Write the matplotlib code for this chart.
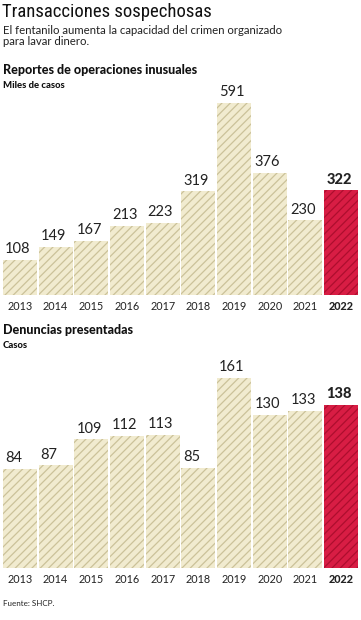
import matplotlib
matplotlib.use("Agg")
import matplotlib.pyplot as plt
from matplotlib import font_manager

years = ["2013", "2014", "2015", "2016", "2017", "2018", "2019", "2020", "2021", "2022"]
reportes = [108, 149, 167, 213, 223, 319, 591, 376, 230, 322]
denuncias = [84, 87, 109, 112, 113, 85, 161, 130, 133, 138]

fl = font_manager.fontManager.ttflist
names = {f.name for f in fl}
title_kw = {"family": "DejaVu Sans", "fontstretch": "condensed"}
for cand in ["Roboto Condensed", "Liberation Sans Narrow", "Open Sans Condensed"]:
    if cand in names:
        title_kw = {"family": cand}
        break
else:
    cond = [f for f in fl if str(f.stretch) in ("condensed", "semi-condensed", "extra-condensed", "75", "87.5")]
    if cond:
        title_kw = {"family": cond[0].name, "fontstretch": cond[0].stretch}
body_font = "Lato"

W, H = 361, 620
fig = plt.figure(figsize=(W / 100, H / 100), dpi=100)
plt.rcParams['hatch.linewidth'] = 0.9

beige = "#f1ebcf"
beige_h = "#cbc299"
red = "#d81d44"
red_h = "#ad0e2e"

def px_axes(x0, x1, ytop, ybot):
    return fig.add_axes([x0 / W, 1 - ybot / H, (x1 - x0) / W, (ybot - ytop) / H])

def draw(ax, vals, ymax):
    n = len(vals)
    for i, v in enumerate(vals):
        last = i == n - 1
        ax.bar(i, v, width=0.955, color=red if last else beige,
               edgecolor=red_h if last else beige_h, hatch="////", linewidth=0)
        ax.text(i - 0.42, v + ymax * 0.018, str(v), ha="left", va="bottom",
                fontsize=10.5, fontweight="black" if last else "normal",
                family=body_font, color="#222222")
    ax.set_xlim(-0.5, n - 0.5)
    ax.set_ylim(0, ymax)
    ax.axis("off")
    for i, y in enumerate(years):
        ax.text(i, -ymax * 0.028, y, ha="center", va="top", fontsize=7.8,
                fontweight="black" if i == n - 1 else "normal", family=body_font,
                color="#222222")

ax1 = px_axes(2, 359, 90, 295)
draw(ax1, reportes, 205 / 0.325)

ax2 = px_axes(2, 359, 360, 568)
draw(ax2, denuncias, 208 / 1.18)

fig.text(2 / W, 1 - 3 / H, "Transacciones sospechosas", ha="left", va="top",
         fontsize=13.5, color="#111111", **title_kw)
fig.text(3 / W, 1 - 25 / H, "El fentanilo aumenta la capacidad del crimen organizado\npara lavar dinero.",
         ha="left", va="top", fontsize=8.2, family=body_font, color="#222222", linespacing=1.05)
fig.text(3 / W, 1 - 64 / H, "Reportes de operaciones inusuales", ha="left", va="top",
         fontsize=9.0, fontweight="black", family=body_font, color="#111111")
fig.text(3 / W, 1 - 81 / H, "Miles de casos", ha="left", va="top",
         fontsize=6.8, fontweight="black", family=body_font, color="#111111")
fig.text(3 / W, 1 - 324 / H, "Denuncias presentadas", ha="left", va="top",
         fontsize=9.0, fontweight="black", family=body_font, color="#111111")
fig.text(3 / W, 1 - 341 / H, "Casos", ha="left", va="top",
         fontsize=6.8, fontweight="black", family=body_font, color="#111111")
fig.text(3 / W, 1 - 600 / H, "Fuente: SHCP.", ha="left", va="top",
         fontsize=5.8, family=body_font, color="#222222")

fig.savefig("out.png", dpi=100, facecolor="white")
